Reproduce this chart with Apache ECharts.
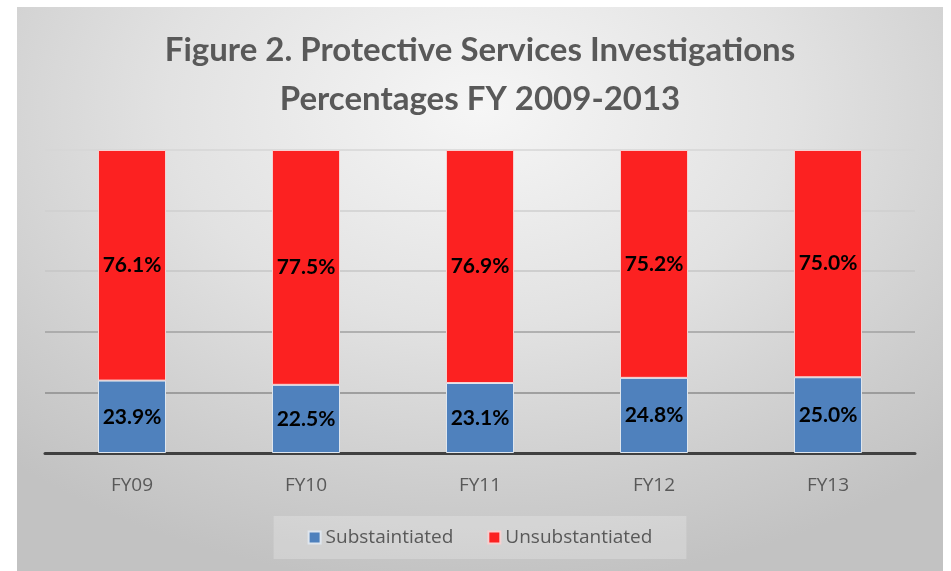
<!DOCTYPE html>
<html>
<head>
<meta charset="UTF-8">
<title>Protective Services Investigations</title>
<style type="text/css">
   body{
      margin:0;
      background-color:#ffffff;
   }
   .frame{
      position:absolute;
      left:17px;
      top:7px;
      width:926px;
      height:564px;
      background:radial-gradient(ellipse 75% 85% at 50% 18%, #f6f6f6 0%, #e2e2e2 45%, #cdcdcd 80%, #c2c2c2 100%);
   }
   #container{
      width:926px;
      height:564px;
   }
</style>
</head>
<body>
<div class="frame">
   <div id="container"></div>
</div>
<script src="https://cdn.jsdelivr.net/npm/echarts@6/dist/echarts.min.js"></script>
<script type="text/javascript">
var years = ['FY09', 'FY10', 'FY11', 'FY12', 'FY13'];
var substantiated = [23.9, 22.5, 23.1, 24.8, 25.0];
var unsubstantiated = [76.1, 77.5, 76.9, 75.2, 75.0];

var myChart = echarts.init(document.getElementById('container'));

var labelStyle = {
    show: true,
    position: 'inside',
    color: '#000000',
    fontFamily: 'Lato',
    fontWeight: 'bold',
    fontSize: 21,
    formatter: function (p) { return p.value.toFixed(1) + '%'; }
};

var option = {
    backgroundColor: 'transparent',
    animation: false,
    title: {
        text: 'Figure 2. Protective Services Investigations\nPercentages FY 2009-2013',
        left: 'center',
        top: 14,
        textStyle: {
            fontFamily: 'Lato',
            fontWeight: 'bold',
            fontSize: 33,
            lineHeight: 49,
            color: '#595959'
        }
    },
    legend: {
        bottom: 12,
        left: 'center',
        itemWidth: 12,
        itemHeight: 12,
        itemGap: 34,
        padding: [12, 34, 12, 34],
        backgroundColor: 'rgba(255,255,255,0.22)',
        icon: 'rect',
        textStyle: {
            fontFamily: 'Open Sans',
            fontSize: 19,
            color: '#595959'
        },
        data: ['Substaintiated', 'Unsubstantiated']
    },
    grid: {
        left: 28,
        right: 28,
        top: 143,
        bottom: 118
    },
    xAxis: {
        type: 'category',
        data: years,
        axisTick: { show: false },
        axisLine: { lineStyle: { color: '#404040', width: 3 } },
        axisLabel: {
            margin: 23,
            fontFamily: 'Open Sans',
            fontSize: 19,
            color: '#595959'
        }
    },
    yAxis: {
        type: 'value',
        min: 0,
        max: 100,
        interval: 20,
        axisLabel: { show: false },
        axisLine: { show: false },
        axisTick: { show: false },
        splitLine: {
            lineStyle: {
                color: ['#8a8a8a', '#8c8c8c', '#a0a0a0', '#c6c6c6', '#cfcfcf', '#d6d6d6'],
                width: 1.5
            }
        }
    },
    series: [
        {
            name: 'Substaintiated',
            type: 'bar',
            stack: 'total',
            barWidth: 68,
            data: substantiated,
            itemStyle: { color: '#4f81bd', borderColor: '#dfe6ee', borderWidth: 1 },
            label: labelStyle
        },
        {
            name: 'Unsubstantiated',
            type: 'bar',
            stack: 'total',
            barWidth: 68,
            data: unsubstantiated,
            itemStyle: { color: '#fc2121', borderColor: '#f7d0d0', borderWidth: 1 },
            label: labelStyle
        }
    ]
};
myChart.setOption(option, true);
</script>
</body>
</html>
